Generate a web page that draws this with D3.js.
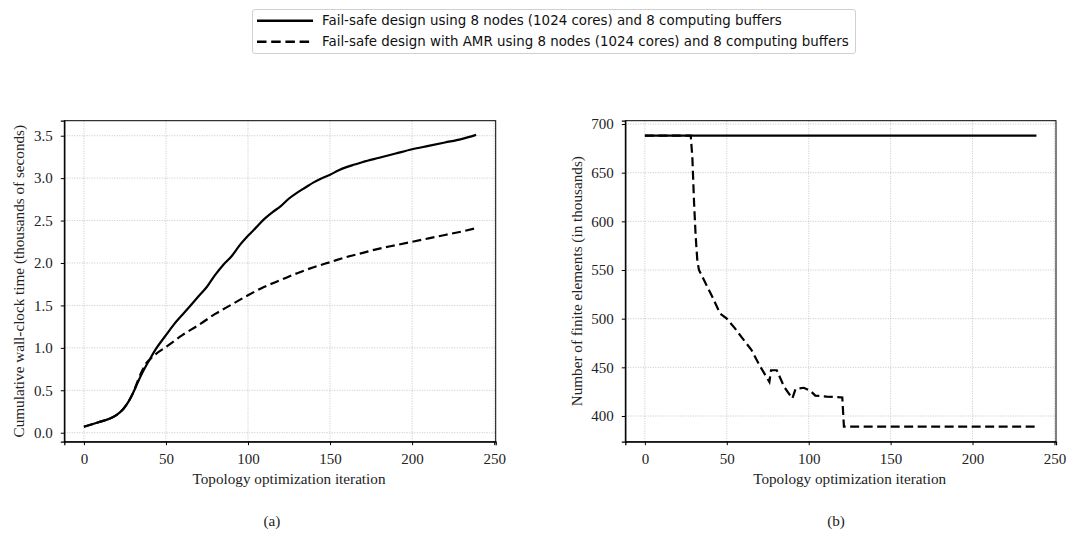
<!DOCTYPE html>
<html>
<head>
<meta charset="utf-8">
<script src="https://cdn.jsdelivr.net/npm/d3@7"></script>
<style>
  body { margin: 0; background: #fff; }
  .tick text { font-family: "Liberation Serif", serif; font-size: 15px; fill: #222; }
  .axisText { font-family: "Liberation Serif", serif; font-size: 15.2px; fill: #222; }
  .legendText { font-family: "DejaVu Sans", sans-serif; font-size: 13.4px; fill: #111; }
</style>
</head>
<body>
<div id="body"></div>
<script>
// (a) cumulative wall-clock time, thousands of seconds
var timeIter = [0, 5, 10, 15, 20, 24, 27, 30, 33, 36, 40, 44, 50, 55, 60, 65, 70, 75, 80, 85, 90, 95, 100, 105, 110, 115, 120, 125, 130, 135, 140, 145, 150, 155, 160, 165, 170, 180, 190, 200, 210, 220, 230, 239];
var timeFailSafe = [0.07, 0.10, 0.13, 0.16, 0.21, 0.28, 0.36, 0.47, 0.60, 0.72, 0.86, 0.99, 1.15, 1.28, 1.39, 1.50, 1.61, 1.72, 1.86, 1.98, 2.08, 2.21, 2.32, 2.42, 2.52, 2.60, 2.67, 2.76, 2.83, 2.89, 2.95, 3.00, 3.04, 3.09, 3.13, 3.16, 3.19, 3.24, 3.29, 3.34, 3.38, 3.42, 3.46, 3.51];
var timeAmrIter = [0, 5, 10, 15, 20, 24, 27, 30, 33, 36, 38, 40, 44, 50, 60, 70, 80, 90, 100, 110, 120, 130, 140, 150, 160, 170, 180, 190, 200, 210, 220, 230, 239];
var timeAmr = [0.07, 0.10, 0.13, 0.16, 0.21, 0.28, 0.36, 0.47, 0.62, 0.75, 0.82, 0.86, 0.93, 1.01, 1.15, 1.27, 1.40, 1.51, 1.62, 1.72, 1.80, 1.88, 1.95, 2.01, 2.07, 2.12, 2.17, 2.21, 2.25, 2.29, 2.33, 2.37, 2.41];

// (b) number of finite elements, thousands
var elemIter = [0, 239];
var elemFailSafe = [688, 688];
var elemAmrIter = [0, 28, 29, 30, 31, 32, 33, 36, 41, 46, 50, 55, 59, 65, 70, 76, 77, 80.5, 85, 90, 92, 97, 101, 104, 111, 120.5, 121.5, 239];
var elemAmr = [688, 688, 665, 620, 585, 560, 550, 540, 523, 505, 500, 490, 481, 468, 452, 435, 447, 447, 430, 418, 428, 429, 426, 421, 420, 419, 389, 389];

var xTicks = [0, 50, 100, 150, 200, 250];
var timeTicks = [0.0, 0.5, 1.0, 1.5, 2.0, 2.5, 3.0, 3.5];
var elemTicks = [400, 450, 500, 550, 600, 650, 700];

var legendLabels = [
  "Fail-safe design using 8 nodes (1024 cores) and 8 computing buffers",
  "Fail-safe design with AMR using 8 nodes (1024 cores) and 8 computing buffers"
];

var W = 1080, H = 549;
var dashPattern = "9,4.5";

var svg = d3.select("#body")
  .append("svg")
  .attr("width", W)
  .attr("height", H);

function drawPanel(opt) {
  var x = d3.scaleLinear().domain([-11.95, 250.95]).range([opt.left, opt.right]);
  var y = d3.scaleLinear().domain(opt.yDomain).range([opt.bottom, opt.top]);
  var g = svg.append("g");

  // grid
  g.selectAll(".vgrid").data(xTicks)
    .enter().append("line")
    .attr("x1", function(d) { return x(d); }).attr("x2", function(d) { return x(d); })
    .attr("y1", opt.top).attr("y2", opt.bottom)
    .attr("stroke", "#b8b8b8").attr("stroke-width", 0.8).attr("stroke-dasharray", "1,1.5");
  g.selectAll(".hgrid").data(opt.yTicks)
    .enter().append("line")
    .attr("y1", function(d) { return y(d); }).attr("y2", function(d) { return y(d); })
    .attr("x1", opt.left).attr("x2", opt.right)
    .attr("stroke", "#b8b8b8").attr("stroke-width", 0.8).attr("stroke-dasharray", "1,1.5");

  var line = d3.line()
    .x(function(d) { return x(d[0]); })
    .y(function(d) { return y(d[1]); });

  g.append("path")
    .datum(d3.zip(opt.solidX, opt.solidY))
    .attr("d", line.curve(d3.curveMonotoneX))
    .attr("fill", "none").attr("stroke", "#000").attr("stroke-width", 2.2);

  g.append("path")
    .datum(d3.zip(opt.dashX, opt.dashY))
    .attr("d", line.curve(opt.dashCurve))
    .attr("fill", "none").attr("stroke", "#000").attr("stroke-width", 2.2)
    .attr("stroke-dasharray", dashPattern);

  // frame
  g.append("rect")
    .attr("x", opt.left).attr("y", opt.top)
    .attr("width", opt.right - opt.left).attr("height", opt.bottom - opt.top)
    .attr("fill", "none").attr("stroke", "#000").attr("stroke-width", 1);

  var bottomAxis = d3.axisBottom(x).tickValues(xTicks).tickSize(3.5).tickPadding(8)
    .tickFormat(d3.format("d"));
  var leftAxis = d3.axisLeft(y).tickValues(opt.yTicks).tickSize(3.5).tickPadding(8)
    .tickFormat(opt.yFormat);

  var bx = g.append("g").attr("transform", "translate(0," + opt.bottom + ")").call(bottomAxis);
  var ly = g.append("g").attr("transform", "translate(" + opt.left + ",0)").call(leftAxis);
  [bx, ly].forEach(function(a) {
    a.select(".domain").attr("stroke", "#000").attr("stroke-width", 1.3);
    a.selectAll(".tick line").attr("stroke", "#000").attr("stroke-width", 1);
  });

  g.append("text")
    .attr("class", "axisText")
    .attr("x", (x(0) + x(250)) / 2)
    .attr("y", 484)
    .attr("text-anchor", "middle")
    .text("Topology optimization iteration");

  g.append("text")
    .attr("class", "axisText")
    .attr("transform", "translate(" + opt.yLabelX + "," + ((opt.top + opt.bottom) / 2) + ") rotate(-90)")
    .attr("text-anchor", "middle")
    .text(opt.yLabel);

  g.append("text")
    .attr("class", "axisText")
    .attr("x", opt.captionX)
    .attr("y", 526)
    .attr("text-anchor", "middle")
    .text(opt.caption);
}

drawPanel({
  left: 64.3, right: 495.7, top: 120.7, bottom: 441.7,
  yDomain: [-0.106, 3.677], yTicks: timeTicks, yFormat: d3.format(".1f"),
  solidX: timeIter, solidY: timeFailSafe,
  dashX: timeAmrIter, dashY: timeAmr, dashCurve: d3.curveMonotoneX,
  yLabel: "Cumulative wall-clock time (thousands of seconds)", yLabelX: 24,
  caption: "(a)", captionX: 272
});

drawPanel({
  left: 625.3, right: 1056, top: 120.7, bottom: 441.7,
  yDomain: [373.6, 703.4], yTicks: elemTicks, yFormat: d3.format("d"),
  solidX: elemIter, solidY: elemFailSafe,
  dashX: elemAmrIter, dashY: elemAmr, dashCurve: d3.curveLinear,
  yLabel: "Number of finite elements (in thousands)", yLabelX: 582,
  caption: "(b)", captionX: 836
});

// legend
var legend = svg.append("g");
legend.append("rect")
  .attr("x", 252.5).attr("y", 9.5).attr("width", 603).attr("height", 44)
  .attr("rx", 2.5).attr("fill", "#fff").attr("stroke", "#d0d0d0").attr("stroke-width", 1);

legend.selectAll(".lline").data(legendLabels)
  .enter().append("line")
  .attr("x1", 257).attr("x2", 313)
  .attr("y1", function(d, i) { return 20.7 + i * 21; })
  .attr("y2", function(d, i) { return 20.7 + i * 21; })
  .attr("stroke", "#000").attr("stroke-width", 2.5)
  .attr("stroke-dasharray", function(d, i) { return i === 1 ? "9.5,4.7" : null; });

legend.selectAll(".ltext").data(legendLabels)
  .enter().append("text")
  .attr("class", "legendText")
  .attr("x", 322)
  .attr("y", function(d, i) { return 25.4 + i * 21; })
  .text(function(d) { return d; });
</script>
</body>
</html>
